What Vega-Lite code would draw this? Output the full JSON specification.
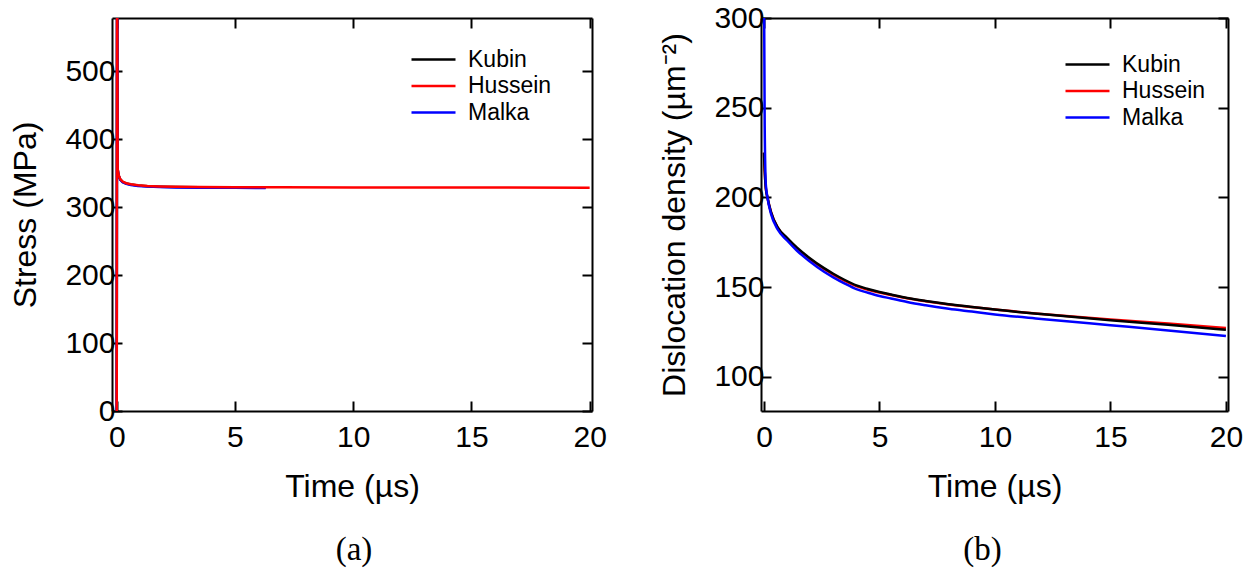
{
  "$schema": "https://vega.github.io/schema/vega-lite/v6.json",
  "padding": {"left": 9, "top": 3, "right": 8, "bottom": 2},
  "spacing": 51,
  "config": {
    "view": {"stroke": null},
    "axis": {
      "labelFont": "Liberation Sans", "labelFontSize": 30, "labelColor": "#000000",
      "titleFont": "Liberation Sans", "titleFontSize": 32, "titleFontWeight": "normal", "titleColor": "#000000",
      "domainColor": "#000000", "domainWidth": 2, "tickColor": "#000000", "tickWidth": 2, "tickSize": -10,
      "grid": false, "labelPadding": 7
    },
    "axisBottom": {"labelPadding": 21, "titlePadding": 19},
    "axisLeft": {"titlePadding": 22},
    "legend": {
      "labelFont": "Liberation Sans", "labelFontSize": 23, "labelColor": "#000000",
      "symbolType": "M-1,0H3", "symbolSize": 484, "symbolStrokeWidth": 2.5,
      "rowPadding": 1.5, "labelOffset": 33, "padding": 0, "title": null
    }
  },
  "datasets": {
    "stress": [
      {"t": 0, "v": 0, "s": "Kubin"}, {"t": 0.015, "v": 700, "s": "Kubin"}, {"t": 0.04, "v": 355.5, "s": "Kubin"}, {"t": 0.08, "v": 346.5, "s": "Kubin"}, {"t": 0.15, "v": 340.5, "s": "Kubin"}, {"t": 0.25, "v": 337, "s": "Kubin"}, {"t": 0.4, "v": 334.5, "s": "Kubin"}, {"t": 0.6, "v": 333, "s": "Kubin"}, {"t": 0.9, "v": 331.5, "s": "Kubin"}, {"t": 1.3, "v": 330.5, "s": "Kubin"}, {"t": 1.8, "v": 329.8, "s": "Kubin"}, {"t": 2.5, "v": 329.3, "s": "Kubin"}, {"t": 3.5, "v": 329, "s": "Kubin"}, {"t": 5, "v": 328.7, "s": "Kubin"}, {"t": 6.3, "v": 328.6, "s": "Kubin"},
      {"t": 0, "v": 0, "s": "Malka"}, {"t": 0.015, "v": 700, "s": "Malka"}, {"t": 0.04, "v": 355, "s": "Malka"}, {"t": 0.08, "v": 346, "s": "Malka"}, {"t": 0.15, "v": 340, "s": "Malka"}, {"t": 0.25, "v": 336.5, "s": "Malka"}, {"t": 0.4, "v": 334, "s": "Malka"}, {"t": 0.6, "v": 332.5, "s": "Malka"}, {"t": 0.9, "v": 331, "s": "Malka"}, {"t": 1.3, "v": 330, "s": "Malka"}, {"t": 1.8, "v": 329.3, "s": "Malka"}, {"t": 2.5, "v": 328.8, "s": "Malka"}, {"t": 3.5, "v": 328.5, "s": "Malka"}, {"t": 5, "v": 328.2, "s": "Malka"}, {"t": 6.3, "v": 328.1, "s": "Malka"},
      {"t": 0, "v": 0, "s": "Hussein"}, {"t": 0.015, "v": 700, "s": "Hussein"}, {"t": 0.04, "v": 356, "s": "Hussein"}, {"t": 0.08, "v": 347, "s": "Hussein"}, {"t": 0.15, "v": 341, "s": "Hussein"}, {"t": 0.25, "v": 337.5, "s": "Hussein"}, {"t": 0.4, "v": 335, "s": "Hussein"}, {"t": 0.6, "v": 333.5, "s": "Hussein"}, {"t": 0.9, "v": 332, "s": "Hussein"}, {"t": 1.3, "v": 331, "s": "Hussein"}, {"t": 1.8, "v": 330.3, "s": "Hussein"}, {"t": 2.5, "v": 329.8, "s": "Hussein"}, {"t": 3.5, "v": 329.5, "s": "Hussein"}, {"t": 5, "v": 329.2, "s": "Hussein"}, {"t": 7, "v": 329, "s": "Hussein"}, {"t": 10, "v": 328.8, "s": "Hussein"}, {"t": 14, "v": 328.6, "s": "Hussein"}, {"t": 20, "v": 328.5, "s": "Hussein"}
    ],
    "density": [
      {"t": 0, "v": 225, "s": "Hussein"}, {"t": 0.03, "v": 215, "s": "Hussein"}, {"t": 0.08, "v": 205, "s": "Hussein"}, {"t": 0.15, "v": 200, "s": "Hussein"}, {"t": 0.3, "v": 192, "s": "Hussein"}, {"t": 0.6, "v": 183, "s": "Hussein"}, {"t": 1.0, "v": 177, "s": "Hussein"}, {"t": 1.43, "v": 171.5, "s": "Hussein"}, {"t": 2.0, "v": 165.5, "s": "Hussein"}, {"t": 2.6, "v": 160.1, "s": "Hussein"}, {"t": 3.0, "v": 157, "s": "Hussein"}, {"t": 3.5, "v": 153.5, "s": "Hussein"}, {"t": 4.0, "v": 150.6, "s": "Hussein"}, {"t": 4.5, "v": 148.6, "s": "Hussein"}, {"t": 5.0, "v": 147, "s": "Hussein"}, {"t": 5.5, "v": 145.6, "s": "Hussein"}, {"t": 6.2, "v": 143.8, "s": "Hussein"}, {"t": 7, "v": 142.2, "s": "Hussein"}, {"t": 8, "v": 140.4, "s": "Hussein"}, {"t": 9, "v": 138.9, "s": "Hussein"}, {"t": 10, "v": 137.5, "s": "Hussein"}, {"t": 12, "v": 135.1, "s": "Hussein"}, {"t": 15, "v": 132, "s": "Hussein"}, {"t": 17.5, "v": 129.7, "s": "Hussein"}, {"t": 20, "v": 127.3, "s": "Hussein"},
      {"t": 0, "v": 225, "s": "Kubin"}, {"t": 0.03, "v": 215, "s": "Kubin"}, {"t": 0.08, "v": 205, "s": "Kubin"}, {"t": 0.15, "v": 200, "s": "Kubin"}, {"t": 0.3, "v": 192, "s": "Kubin"}, {"t": 0.6, "v": 183.2, "s": "Kubin"}, {"t": 1.0, "v": 177.5, "s": "Kubin"}, {"t": 1.43, "v": 172, "s": "Kubin"}, {"t": 2.0, "v": 166, "s": "Kubin"}, {"t": 2.6, "v": 160.6, "s": "Kubin"}, {"t": 3.0, "v": 157.5, "s": "Kubin"}, {"t": 3.5, "v": 154, "s": "Kubin"}, {"t": 4.0, "v": 151, "s": "Kubin"}, {"t": 4.5, "v": 149, "s": "Kubin"}, {"t": 5.0, "v": 147.3, "s": "Kubin"}, {"t": 5.5, "v": 145.9, "s": "Kubin"}, {"t": 6.2, "v": 144, "s": "Kubin"}, {"t": 7, "v": 142.3, "s": "Kubin"}, {"t": 8, "v": 140.5, "s": "Kubin"}, {"t": 9, "v": 139, "s": "Kubin"}, {"t": 10, "v": 137.5, "s": "Kubin"}, {"t": 12, "v": 135, "s": "Kubin"}, {"t": 15, "v": 131.6, "s": "Kubin"}, {"t": 17.5, "v": 129, "s": "Kubin"}, {"t": 20, "v": 126.3, "s": "Kubin"},
      {"t": 0, "v": 320, "s": "Malka"}, {"t": 0.03, "v": 240, "s": "Malka"}, {"t": 0.08, "v": 207, "s": "Malka"}, {"t": 0.15, "v": 200, "s": "Malka"}, {"t": 0.3, "v": 191, "s": "Malka"}, {"t": 0.6, "v": 182, "s": "Malka"}, {"t": 1.0, "v": 176, "s": "Malka"}, {"t": 1.43, "v": 170.3, "s": "Malka"}, {"t": 2.0, "v": 164.2, "s": "Malka"}, {"t": 2.6, "v": 158.6, "s": "Malka"}, {"t": 3.0, "v": 155.5, "s": "Malka"}, {"t": 3.5, "v": 152, "s": "Malka"}, {"t": 4.0, "v": 148.9, "s": "Malka"}, {"t": 4.5, "v": 146.9, "s": "Malka"}, {"t": 5.0, "v": 145.1, "s": "Malka"}, {"t": 5.5, "v": 143.7, "s": "Malka"}, {"t": 6.2, "v": 141.7, "s": "Malka"}, {"t": 7, "v": 139.9, "s": "Malka"}, {"t": 8, "v": 138, "s": "Malka"}, {"t": 9, "v": 136.4, "s": "Malka"}, {"t": 10, "v": 134.8, "s": "Malka"}, {"t": 12, "v": 132.3, "s": "Malka"}, {"t": 15, "v": 128.8, "s": "Malka"}, {"t": 17.5, "v": 125.9, "s": "Malka"}, {"t": 20, "v": 122.8, "s": "Malka"}
    ]
  },
  "hconcat": [
    {
      "width": 480, "height": 393,
      "title": {"text": "(a)", "orient": "bottom", "font": "Liberation Serif", "fontSize": 33, "fontWeight": "normal", "color": "#000000", "offset": 32, "anchor": "middle", "frame": "group", "dx": 2},
      "data": {"name": "stress"},
      "layer": [
        {
          "mark": {"type": "line", "strokeWidth": 2.5, "clip": true},
          "encoding": {
            "x": {"field": "t", "type": "quantitative", "scale": {"domain": [-0.2, 20.1], "nice": false, "zero": false}, "axis": {"values": [0, 5, 10, 15, 20], "title": "Time (µs)"}},
            "y": {"field": "v", "type": "quantitative", "scale": {"domain": [0, 578], "nice": false}, "axis": {"values": [0, 100, 200, 300, 400, 500], "title": "Stress (MPa)"}},
            "color": {"field": "s", "type": "nominal", "scale": {"domain": ["Kubin", "Hussein", "Malka"], "range": ["#000000", "#ff0000", "#0000ff"]}, "legend": {"orient": "none", "legendX": 298, "legendY": 29}}
          }
        },
        {
          "mark": {"type": "point", "opacity": 0, "clip": true},
          "encoding": {
            "x": {"field": "t", "type": "quantitative", "scale": {"domain": [-0.2, 20.1], "nice": false, "zero": false}, "axis": {"orient": "top", "values": [0, 5, 10, 15, 20], "labels": false, "title": null}},
            "y": {"field": "v", "type": "quantitative", "scale": {"domain": [0, 578], "nice": false}, "axis": {"orient": "right", "values": [0, 100, 200, 300, 400, 500], "labels": false, "title": null}}
          }
        }
      ],
      "resolve": {"axis": {"x": "independent", "y": "independent"}}
    },
    {
      "width": 467, "height": 393,
      "title": {"text": "(b)", "orient": "bottom", "font": "Liberation Serif", "fontSize": 33, "fontWeight": "normal", "color": "#000000", "offset": 32, "anchor": "middle", "frame": "group", "dx": -12},
      "data": {"name": "density"},
      "layer": [
        {
          "mark": {"type": "line", "strokeWidth": 2.5, "clip": true, "interpolate": "monotone"},
          "encoding": {
            "x": {"field": "t", "type": "quantitative", "scale": {"domain": [-0.13, 20.09], "nice": false, "zero": false}, "axis": {"values": [0, 5, 10, 15, 20], "title": "Time (µs)"}},
            "y": {"field": "v", "type": "quantitative", "scale": {"domain": [81, 300], "nice": false, "zero": false}, "axis": {"values": [100, 150, 200, 250, 300], "title": "Dislocation density (µm⁻²)"}},
            "color": {"field": "s", "type": "nominal", "scale": {"domain": ["Kubin", "Hussein", "Malka"], "range": ["#000000", "#ff0000", "#0000ff"]}, "legend": {"orient": "none", "legendX": 303, "legendY": 34}}
          }
        },
        {
          "mark": {"type": "point", "opacity": 0, "clip": true},
          "encoding": {
            "x": {"field": "t", "type": "quantitative", "scale": {"domain": [-0.13, 20.09], "nice": false, "zero": false}, "axis": {"orient": "top", "values": [0, 5, 10, 15, 20], "labels": false, "title": null}},
            "y": {"field": "v", "type": "quantitative", "scale": {"domain": [81, 300], "nice": false, "zero": false}, "axis": {"orient": "right", "values": [100, 150, 200, 250, 300], "labels": false, "title": null}}
          }
        }
      ],
      "resolve": {"axis": {"x": "independent", "y": "independent"}}
    }
  ],
  "resolve": {"scale": {"color": "shared"}, "legend": {"color": "independent"}}
}
